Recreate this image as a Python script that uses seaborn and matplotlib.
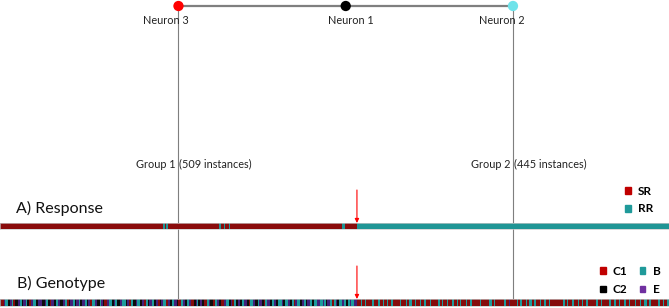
import numpy as np
import seaborn as sns
import matplotlib.pyplot as plt
from matplotlib.colors import ListedColormap
from matplotlib.patches import Patch

plt.rcParams['font.family'] = ['Lato', 'DejaVu Sans']

# groups found by the two output neurons
group_sizes = [509, 445]
group_labels = ["Group 1", "Group 2"]
neuron_labels = ["Neuron 3", "Neuron 1", "Neuron 2"]
neuron_colors = ["#ff0000", "#000000", "#6fe3ea"]

# response per instance, run-length coded (category, count), read left to right
response_g1 = [("SR", 232), ("RR", 3), ("SR", 2), ("RR", 2), ("SR", 73), ("RR", 3),
               ("SR", 5), ("RR", 1), ("SR", 6), ("RR", 1), ("SR", 5), ("RR", 1),
               ("SR", 154), ("RR", 4), ("SR", 17)]
response_g2 = [("RR", 445)]
response_cats = ["SR", "RR"]
response_strip_colors = ["#8a0c0c", "#1f9595"]
response_legend_colors = ["#c00000", "#1f9a9a"]

# genotype per instance, run-length coded: R=C1, K=C2, B=B, E=E
genotype_g1 = [
    "K2 R3 E2 B4 K3 E3 B2 R2 K4 E3 B3 K2 E4 B2 K3 R2 E3 B4 K3 E3",
    "E3 K4 E2 B3 K2 R2 E4 K3 B2 E3 K5 E2 B3 R3 K2 E4 B3 K2 E3 B2",
    "K3 E4 B3 K2 E3 R2 B4 E3 K4 B2 E3 K2 R3 E4 B3 K3 E2 B3 K4",
    "E3 B5 K2 E3 R3 B3 K4 E2 B4 K3 E3 R2 B3 K2 E4 B3 K3 E2 R3",
    "K2 E3 B4 R3 E2 K3 B3 E4 K2 R4 B3 E3 K3 B2 E4 R3 K3 E2 B2 K2",
    "E3 K3 R4 B3 E2 K4 R3 B3 E3 K2 R4 E3 B4 K3 E2 R3 B3 K3 E2",
    "K3 B3 E4 K3 R2 B4 E3 K4 B2 E3 K3 R2 B3 E4 K3 B3 E2 K3 B3",
    "B3 E2 K3 B4 E3 K2 B3 R2 E3 B4 K3 E2 B3 K2 E4 B3 K3 B4 E4",
    "B4 E2 B3 K2 E3 B4 R2 B3 E2 K3 B4 E3 B3 K2 B3 E2 B4 E4",
]
genotype_g2 = [
    "R6 B1 R4 B2 R5 K1 R3 B2 R6 B3 R4 B1 R5 B2 R4 B3 R4",
    "R5 B2 R7 B1 R3 B4 R5 B1 R6 B2 R4 B3 R5 B2 R6",
    "R4 B3 R2 B2 R6 B1 R5 B3 R4 B2 R3 B2 R7 B1 R4 B3 R4",
    "R7 B2 R5 B1 R6 B3 R3 B2 R8 B1 R4 B2 R5 E1 R6",
    "R4 B2 R3 B3 R5 B1 R4 B4 R3 B2 R6 B1 R5 B3 R4 B2 R4",
    "R6 B1 R7 B2 R4 B1 R6 B3 R5 B2 R4 B1 R5 B2 R3 B1 R3",
    "R5 B3 R4 B2 R6 B1 R3 B2 R5 B3 R4 B1 R6 B2 R5 B2 R2",
    "R4 B2 R6 B1 R5 B3 R4 B2 R7 B1 R3 B2 R5 B1 R4 B3",
]
genotype_cats = ["C1", "C2", "B", "E"]
genotype_codes = {"R": "C1", "K": "C2", "B": "B", "E": "E"}
genotype_strip_colors = ["#850b0b", "#0c0c0c", "#1c9c9c", "#42207a"]
genotype_legend_colors = ["#c00000", "#000000", "#1f9a9a", "#7030a0"]


def expand_runs(runs, cats):
    labels = [c for c, n in runs for _ in range(n)]
    return np.array([[cats.index(l) for l in labels]])


def parse_genotype(rows):
    runs = []
    for row in rows:
        for tok in row.split():
            runs.append((genotype_codes[tok[0]], int(tok[1:])))
    return runs


response = expand_runs(response_g1 + response_g2, response_cats)
genotype = expand_runs(parse_genotype(genotype_g1) + parse_genotype(genotype_g2), genotype_cats)
n_total = sum(group_sizes)

W, H = 669, 308
fig = plt.figure(figsize=(W / 100, H / 100), dpi=100)

# overlay axes: x in instances, y in pixels from the top
ax = fig.add_axes([0, 0, 1, 1], zorder=0)
ax.set_xlim(0, n_total)
ax.set_ylim(H, 0)
ax.axis("off")
px = n_total / W  # instances per pixel, for placing the panel titles

# node positions follow the group centres
centres = [group_sizes[0] / 2, group_sizes[0] + group_sizes[1] / 2]
node_x = [centres[0], (centres[0] + centres[1]) / 2, centres[1]]
node_y = 6
ax.plot([node_x[0], node_x[2]], [node_y, node_y], color="#7f7f7f", lw=1.6, zorder=1)
ax.vlines(centres, node_y, 299, color="#7f7f7f", lw=0.8, zorder=1)
ax.scatter(node_x, [node_y] * 3, s=55, c=neuron_colors, zorder=3, linewidths=0)
for x, lab, dx in zip(node_x, neuron_labels, [-13, 5, -11]):
    ax.annotate(lab, (x, 21), xytext=(dx, 0), textcoords="offset pixels",
                ha="center", va="center", fontsize=7.8, color="#222222")

for x, lab, size in zip(centres, group_labels, group_sizes):
    ax.annotate(lab + " ", (x, 164), ha="right", va="center", fontsize=7.8, color="#222222")
    ax.annotate(f"({size} instances)", (x, 164), xytext=(1, 0), textcoords="offset pixels",
                ha="left", va="center", fontsize=7.8, color="#222222")

ax.text(16 * px, 208, "A) Response", fontsize=11.5, va="center", color="#111111")
ax.text(17 * px, 283, "B) Genotype", fontsize=11.5, va="center", color="#111111")

# red arrows at the boundary between the groups
for y0, y1 in [(190, 223), (266, 299)]:
    ax.annotate("", xy=(group_sizes[0], y1), xytext=(group_sizes[0], y0),
                arrowprops=dict(arrowstyle="-|>", color="#ff0000", lw=0.8,
                                mutation_scale=6, shrinkA=0, shrinkB=0), zorder=5)

# strips
ax_r = fig.add_axes([0, 1 - 229 / H, 1, 6 / H], zorder=2)
sns.heatmap(response, ax=ax_r, cmap=ListedColormap(response_strip_colors), vmin=-0.5,
            vmax=len(response_cats) - 0.5, cbar=False, xticklabels=False, yticklabels=False)
ax_g = fig.add_axes([0, 1 - 306 / H, 1, 7 / H], zorder=2)
sns.heatmap(genotype, ax=ax_g, cmap=ListedColormap(genotype_strip_colors), vmin=-0.5,
            vmax=len(genotype_cats) - 0.5, cbar=False, xticklabels=False, yticklabels=False)
for a in (ax_r, ax_g):
    for s in a.spines.values():
        s.set_visible(True)
        s.set_color("#c8c8c8")
        s.set_linewidth(0.5)

leg_font = {"weight": "bold", "size": 8.5}
fig.legend(handles=[Patch(color=c, label=l) for c, l in zip(response_legend_colors, response_cats)],
           loc="upper left", bbox_to_anchor=(625 / W, 1 - 186 / H), frameon=False,
           prop=leg_font, handlelength=0.5, handleheight=0.5, handletextpad=0.6,
           labelspacing=0.55, borderpad=0, borderaxespad=0)
fig.legend(handles=[Patch(color=c, label=l) for c, l in zip(genotype_legend_colors, genotype_cats)],
           loc="upper left", bbox_to_anchor=(600 / W, 1 - 266 / H), frameon=False, ncol=2,
           prop=leg_font, handlelength=0.5, handleheight=0.5, handletextpad=0.6,
           labelspacing=0.6, columnspacing=1.0, borderpad=0, borderaxespad=0)

plt.savefig("out.png", dpi=100)
